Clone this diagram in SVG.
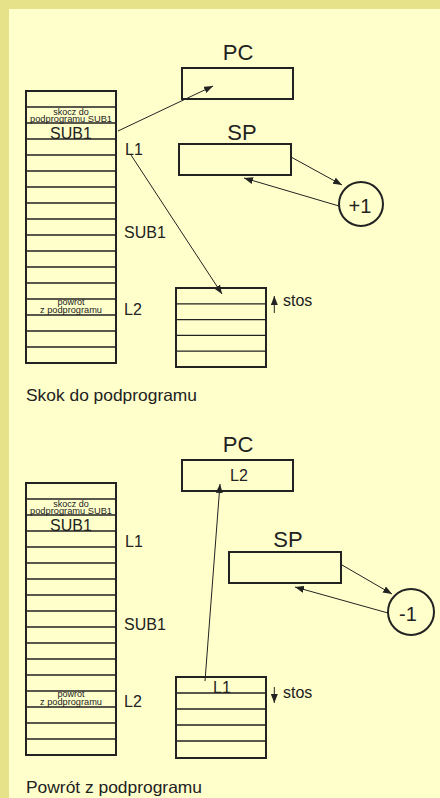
<svg xmlns="http://www.w3.org/2000/svg" width="440" height="798" viewBox="0 0 440 798">
<style>
.t{font-family:"Liberation Sans",Arial,sans-serif;fill:#222}
.box{fill:none;stroke:#222;stroke-width:2}
.row{fill:none;stroke:#222;stroke-width:1.3}
.con{fill:none;stroke:#222;stroke-width:1}
.lbl{font-size:16px}
.reg{font-size:22px;text-anchor:middle}
.sm{font-size:9px;text-anchor:middle}
.cap{font-size:16.5px}
</style>
<defs>
<marker id="ah" markerUnits="userSpaceOnUse" markerWidth="9" markerHeight="7" refX="9" refY="3.5" orient="auto">
<path d="M0,0 L9,3.5 L0,7 z" fill="#222"/>
</marker>
</defs>
<rect x="0" y="0" width="440" height="798" fill="#e5e28a"/>
<rect x="9" y="9" width="431" height="789" fill="#ffffcc"/>

<!-- TOP: Skok do podprogramu -->
<g id="mem1">
<rect class="box" x="26" y="91" width="90" height="272"/>
<path class="row" d="M26 107H116M26 123H116M26 139H116M26 155H116M26 171H116M26 187H116M26 203H116M26 219H116M26 235H116M26 251H116M26 267H116M26 283H116M26 299H116M26 315H116M26 331H116M26 347H116"/>
<text class="t sm" x="71" y="114.5">skocz do</text>
<text class="t sm" x="71" y="122" textLength="82" lengthAdjust="spacingAndGlyphs">podprogramu SUB1</text>
<text class="t" x="71" y="138.5" font-size="16" text-anchor="middle">SUB1</text>
<text class="t sm" x="71" y="305">powrot</text>
<text class="t sm" x="71" y="312.5" textLength="62" lengthAdjust="spacingAndGlyphs">z podprogramu</text>
<text class="t lbl" x="125" y="155">L1</text>
<text class="t lbl" x="124" y="238">SUB1</text>
<text class="t lbl" x="124" y="315">L2</text>
</g>
<g id="pc1">
<text class="t reg" x="238" y="60">PC</text>
<rect class="box" x="182" y="68" width="111" height="31"/>
</g>
<g id="sp1">
<text class="t reg" x="242" y="140">SP</text>
<rect class="box" x="179" y="144" width="112" height="31"/>
</g>
<g id="inc1">
<circle class="box" cx="361" cy="204" r="22"/>
<text class="t" x="360" y="213" font-size="20" text-anchor="middle">+1</text>
</g>
<g id="stack1">
<rect class="box" x="176" y="288" width="90" height="79"/>
<path class="row" d="M176 303.8H266M176 319.6H266M176 335.4H266M176 351.2H266"/>
<text class="t lbl" x="283" y="306">stos</text>
</g>
<text class="t cap" x="26" y="401" textLength="171" lengthAdjust="spacingAndGlyphs">Skok do podprogramu</text>

<!-- BOTTOM: Powrót z podprogramu -->
<g id="mem2">
<rect class="box" x="26" y="483" width="90" height="272"/>
<path class="row" d="M26 499H116M26 515H116M26 531H116M26 547H116M26 563H116M26 579H116M26 595H116M26 611H116M26 627H116M26 643H116M26 659H116M26 675H116M26 691H116M26 707H116M26 723H116M26 739H116"/>
<text class="t sm" x="71" y="506.5">skocz do</text>
<text class="t sm" x="71" y="514" textLength="82" lengthAdjust="spacingAndGlyphs">podprogramu SUB1</text>
<text class="t" x="71" y="530.5" font-size="16" text-anchor="middle">SUB1</text>
<text class="t sm" x="71" y="697">powrot</text>
<text class="t sm" x="71" y="704.5" textLength="62" lengthAdjust="spacingAndGlyphs">z podprogramu</text>
<text class="t lbl" x="125" y="547">L1</text>
<text class="t lbl" x="124" y="630">SUB1</text>
<text class="t lbl" x="124" y="707">L2</text>
</g>
<g id="pc2">
<text class="t reg" x="238" y="452">PC</text>
<rect class="box" x="182" y="460" width="111" height="31"/>
<text class="t lbl" x="239" y="481" text-anchor="middle">L2</text>
</g>
<g id="sp2">
<text class="t reg" x="288" y="547">SP</text>
<rect class="box" x="229" y="552" width="112" height="31"/>
</g>
<g id="dec2">
<circle class="box" cx="411" cy="612" r="23"/>
<text class="t" x="408" y="621" font-size="20" text-anchor="middle">-1</text>
</g>
<g id="stack2">
<rect class="box" x="176" y="677" width="90" height="81"/>
<path class="row" d="M176 693H266M176 709H266M176 725H266M176 741H266"/>
<text class="t lbl" x="222" y="692.5" text-anchor="middle">L1</text>
<text class="t lbl" x="283" y="698">stos</text>
</g>
<text class="t cap" x="26" y="793" textLength="176" lengthAdjust="spacingAndGlyphs">Powrót z podprogramu</text>

<g id="connectors">
<line class="con" x1="118" y1="131" x2="213" y2="86" marker-end="url(#ah)"/>
<line class="con" x1="131" y1="155" x2="222" y2="294" marker-end="url(#ah)"/>
<line class="con" x1="291" y1="157" x2="342" y2="185" marker-end="url(#ah)"/>
<line class="con" x1="339" y1="206" x2="244" y2="178" marker-end="url(#ah)"/>
<line class="con" x1="274.3" y1="313" x2="274.3" y2="296" marker-end="url(#ah)"/>
<line class="con" x1="205" y1="681" x2="220" y2="484" marker-end="url(#ah)"/>
<line class="con" x1="342" y1="565" x2="392" y2="594" marker-end="url(#ah)"/>
<line class="con" x1="388" y1="613" x2="295" y2="587" marker-end="url(#ah)"/>
<line class="con" x1="274.3" y1="687" x2="274.3" y2="703" marker-end="url(#ah)"/>
</g>
</svg>
